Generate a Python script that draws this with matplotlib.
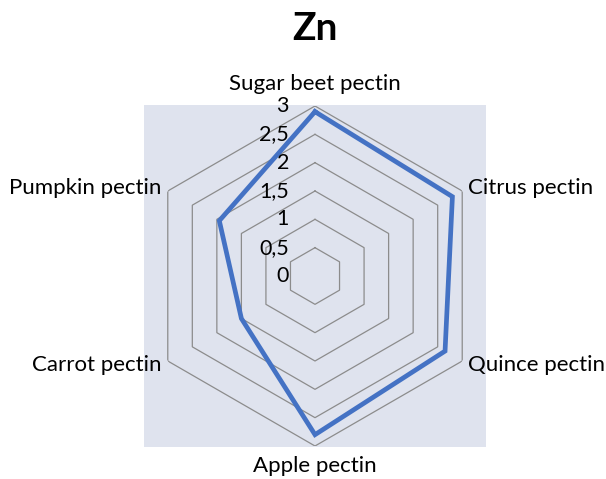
import numpy as np
import matplotlib
matplotlib.use("Agg")
import matplotlib.pyplot as plt
from matplotlib.patches import Rectangle

# data
categories = ["Sugar beet pectin", "Citrus pectin", "Quince pectin",
              "Apple pectin", "Carrot pectin", "Pumpkin pectin"]
values = [2.9, 2.8, 2.65, 2.8, 1.5, 1.95]
rings = [0.5, 1.0, 1.5, 2.0, 2.5, 3.0]
tick_values = [0, 0.5, 1, 1.5, 2, 2.5, 3]
tick_labels = ["0", "0,5", "1", "1,5", "2", "2,5", "3"]

plt.rcParams["font.family"] = ["Lato", "DejaVu Sans"]

W, H = 606, 479
fig = plt.figure(figsize=(W / 100, H / 100), dpi=100)

# plot-area background
fig.patches.append(Rectangle((144 / W, (H - 447) / H), 342 / W, 342 / H,
                             transform=fig.transFigure, facecolor="#DFE3EE",
                             edgecolor="none", zorder=-1))

cx, cy, R = 315, 276, 170
ax = fig.add_axes([(cx - R) / W, (H - cy - R) / H, 2 * R / W, 2 * R / H],
                  projection="polar")
ax.set_zorder(1)
ax.set_theta_offset(np.pi / 2)
ax.set_theta_direction(-1)
ax.set_ylim(0, 3)
ax.patch.set_visible(False)
ax.grid(False)
ax.spines["polar"].set_visible(False)
ax.set_xticks([])
ax.set_yticks([])

n = len(categories)
theta = np.arange(n) * 2 * np.pi / n
theta_closed = np.append(theta, theta[0])

for r in rings:
    ax.plot(theta_closed, [r] * (n + 1), color="#8C8C8C", lw=0.9, zorder=1)

ax.plot(theta_closed, values + values[:1], color="#4472C4", lw=3.4,
        solid_joinstyle="miter", zorder=3)

# radial tick labels
for v, lab in zip(tick_values, tick_labels):
    ax.annotate(lab, xy=(0, v), xytext=(-26, 0), textcoords="offset pixels",
                ha="right", va="center", fontsize=15.5, color="black",
                annotation_clip=False)

# category labels
offsets = [(0, 12, "center", "bottom"), (6, 3, "left", "center"),
           (6, -4, "left", "center"), (0, -10, "center", "top"),
           (-6, -4, "right", "center"), (-6, 3, "right", "center")]
for t, lab, (dx, dy, ha, va) in zip(theta, categories, offsets):
    ax.annotate(lab, xy=(t, 3), xytext=(dx, dy), textcoords="offset pixels",
                ha=ha, va=va, fontsize=16, color="black",
                annotation_clip=False)

fig.text(cx / W, 1 - 28 / H, "Zn", ha="center", va="center",
         fontsize=28, fontweight="bold")

fig.savefig("out.png", dpi=100)
